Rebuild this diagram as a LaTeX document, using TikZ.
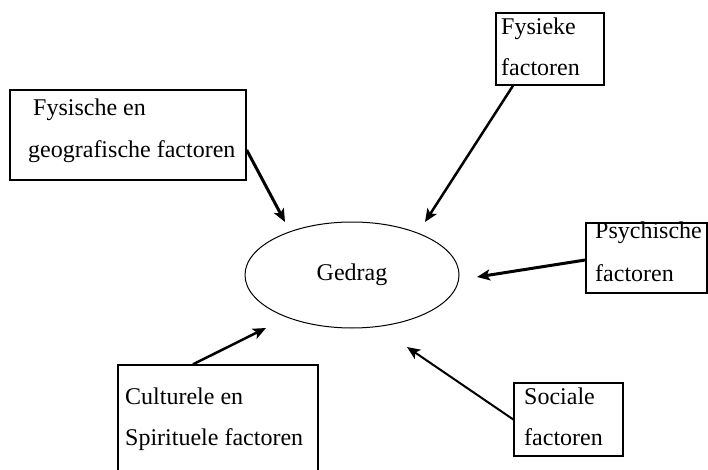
\documentclass[tikz,border=0pt]{standalone}
\usepackage{fontspec}
\setmainfont{Liberation Serif}
\usetikzlibrary{shapes.geometric,arrows.meta}
\begin{document}
\begin{tikzpicture}[x=1pt,y=-1pt,
  box/.style={draw=black,line width=1.4pt,rectangle,inner sep=0pt},
  lbl/.style={anchor=base west,inner sep=0pt,font=\fontsize{24}{28}\selectfont},
  arr/.style={draw=black,-{Stealth[length=13pt,width=11pt,inset=3pt]}},
]
\clip (0,0) rectangle (708,470);
\fill[white] (0,0) rectangle (708,470);
% boxes
\node[box,minimum width=236pt,minimum height=90pt] (b1) at (128,135) {};
\node[box,minimum width=108pt,minimum height=72pt] (b2) at (550,49) {};
\node[box,minimum width=121pt,minimum height=70pt] (b3) at (646.5,258) {};
\node[box,minimum width=109pt,minimum height=73pt] (b4) at (568.5,419.5) {};
\node[box,minimum width=200pt,minimum height=120pt] (b5) at (218,425) {};
% ellipse
\node[ellipse,draw=black,line width=1pt,minimum width=214pt,minimum height=106pt,inner sep=0pt,
  font=\fontsize{24}{28}\selectfont] (g) at (352,275) {Gedrag};
% labels
\node[lbl] (l1a) at (33,116) {Fysische en};
\node[lbl] (l1b) at (28,158) {geografische factoren};
\node[lbl] (l2a) at (501,35) {Fysieke};
\node[lbl] (l2b) at (501,76) {factoren};
\node[lbl] (l3a) at (595,238) {Psychische};
\node[lbl] (l3b) at (595,281) {factoren};
\node[lbl] (l4a) at (524,404) {Sociale};
\node[lbl] (l4b) at (524,445) {factoren};
\node[lbl] (l5a) at (125,404) {Culturele en};
\node[lbl] (l5b) at (125,445) {Spirituele factoren};
% arrow tips
\coordinate (t1) at (285,222);
\coordinate (t2) at (425,222);
\coordinate (t3) at (477,277);
\coordinate (t4) at (407,347);
\coordinate (t5) at (266,328);
% arrows
\draw[arr,line width=3pt] ([yshift=-15pt]b1.east) -- (t1);
\draw[arr,line width=2.5pt] ([xshift=-37pt]b2.south) -- (t2);
\draw[arr,line width=3pt] ([yshift=-2pt]b3.west) -- (t3);
\draw[arr,line width=2pt] (b4.west) -- (t4);
\draw[arr,line width=2.5pt] ([xshift=-25pt]b5.north) -- (t5);
\end{tikzpicture}
\end{document}
